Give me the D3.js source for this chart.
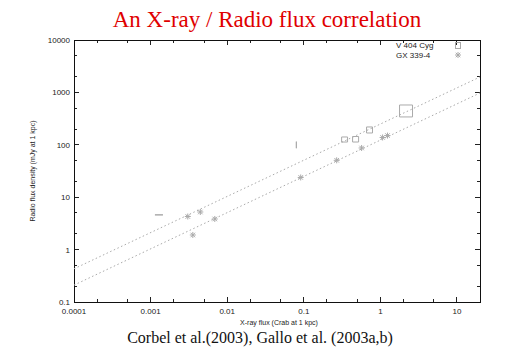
<!DOCTYPE html>
<html>
<head>
<meta charset="utf-8">
<script src="https://cdn.jsdelivr.net/npm/d3@7"></script>
<style>
  body { margin: 0; background: #fff; }
  svg { display: block; }
  .tick-label { font-family: "Liberation Sans", Arial, sans-serif; font-size: 8px; fill: #222; }
  .axis-title { font-family: "Liberation Sans", Arial, sans-serif; font-size: 7px; fill: #222; }
</style>
</head>
<body>
<div id="chart"></div>
<script>
// X-ray flux (Crab at 1 kpc) vs radio flux density (mJy at 1 kpc)

// V 404 Cyg: boxes (x range, y range)
var v404XLo = [0.00114, 0.080, 0.312, 0.434, 0.66, 1.78];
var v404XHi = [0.00145, 0.080, 0.373, 0.52, 0.79, 2.63];
var v404YLo = [4.6, 86, 113, 113, 168, 340];
var v404YHi = [4.6, 115, 141, 144, 219, 575];

// GX 339-4
var gxX = [0.00306, 0.00446, 0.00356, 0.00689, 0.0912, 0.269, 0.569, 1.07, 1.24];
var gxY = [4.28, 5.22, 1.90, 3.84, 23.8, 50.6, 86.9, 138, 150];

// the two correlation lines (end points)
var fitX = [0.0001, 20];
var fitUpper = [0.43, 1970];
var fitLower = [0.21, 975];

var xTicks = [0.0001, 0.001, 0.01, 0.1, 1, 10];
var xTickLabels = ["0.0001", "0.001", "0.01", "0.1", "1", "10"];
var yTicks = [0.1, 1, 10, 100, 1000, 10000];
var yTickLabels = ["0.1", "1", "10", "100", "1000", "10000"];
var seriesNames = ["V 404 Cyg", "GX 339-4"];

var width = 512, height = 354;
var margin = {top: 40, right: 32, bottom: 52, left: 74};

var svg = d3.select("#chart").append("svg")
    .attr("width", width)
    .attr("height", height);

var x = d3.scaleLog().domain([0.0001, 20]).range([margin.left, width - margin.right]);
var y = d3.scaleLog().domain([0.1, 10000]).range([height - margin.bottom, margin.top]);

// title
svg.append("text")
    .attr("x", 267).attr("y", 27)
    .attr("text-anchor", "middle")
    .style("font-family", "'Liberation Serif', 'Times New Roman', serif")
    .style("font-size", "23px")
    .style("fill", "#e00000")
    .text("An X-ray / Radio flux correlation");

// minor ticks at 2 and 5 of every decade
var xMinor = [], yMinor = [];
xTicks.forEach(function(t){ [2, 5].forEach(function(m){ if (t * m <= 20) xMinor.push(t * m); }); });
yTicks.slice(0, -1).forEach(function(t){ [2, 5].forEach(function(m){ yMinor.push(t * m); }); });

var x0 = margin.left, x1 = width - margin.right;
var y0 = height - margin.bottom, y1 = margin.top;

var ticks = svg.append("g").attr("stroke", "#222").attr("stroke-width", 1).attr("shape-rendering", "crispEdges");
xTicks.forEach(function(t){
    ticks.append("line").attr("x1", x(t)).attr("x2", x(t)).attr("y1", y0).attr("y2", y0 - 5);
    ticks.append("line").attr("x1", x(t)).attr("x2", x(t)).attr("y1", y1).attr("y2", y1 + 5);
});
xMinor.forEach(function(t){
    ticks.append("line").attr("x1", x(t)).attr("x2", x(t)).attr("y1", y0).attr("y2", y0 - 3);
    ticks.append("line").attr("x1", x(t)).attr("x2", x(t)).attr("y1", y1).attr("y2", y1 + 3);
});
yTicks.forEach(function(t){
    ticks.append("line").attr("x1", x0).attr("x2", x0 + 5).attr("y1", y(t)).attr("y2", y(t));
    ticks.append("line").attr("x1", x1).attr("x2", x1 - 5).attr("y1", y(t)).attr("y2", y(t));
});
yMinor.forEach(function(t){
    ticks.append("line").attr("x1", x0).attr("x2", x0 + 3).attr("y1", y(t)).attr("y2", y(t));
    ticks.append("line").attr("x1", x1).attr("x2", x1 - 3).attr("y1", y(t)).attr("y2", y(t));
});

// frame
svg.append("rect")
    .attr("x", x0 + 0.5).attr("y", y1 + 0.5)
    .attr("width", x1 - x0).attr("height", y0 - y1)
    .attr("fill", "none").attr("stroke", "#111").attr("stroke-width", 1);

// tick labels
svg.selectAll(".xlab").data(xTicks).enter().append("text")
    .attr("class", "tick-label")
    .attr("x", function(d){ return x(d); })
    .attr("y", y0 + 12)
    .attr("text-anchor", "middle")
    .text(function(d, i){ return xTickLabels[i]; });

svg.selectAll(".ylab").data(yTicks).enter().append("text")
    .attr("class", "tick-label")
    .attr("x", x0 - 4)
    .attr("y", function(d){ return y(d) + 3; })
    .attr("text-anchor", "end")
    .text(function(d, i){ return yTickLabels[i]; });

// axis titles
svg.append("text").attr("class", "axis-title")
    .attr("x", 279).attr("y", y0 + 23)
    .attr("text-anchor", "middle")
    .text("X-ray flux (Crab at 1 kpc)");

svg.append("text").attr("class", "axis-title")
    .attr("transform", "translate(35,171) rotate(-90)")
    .attr("text-anchor", "middle")
    .text("Radio flux density (mJy at 1 kpc)");

// fit lines
var line = d3.line().x(function(d){ return x(d[0]); }).y(function(d){ return y(d[1]); });
[fitUpper, fitLower].forEach(function(f){
    svg.append("path")
        .attr("d", line(fitX.map(function(v, i){ return [v, f[i]]; })))
        .attr("fill", "none")
        .attr("stroke", "#aaa")
        .attr("stroke-width", 1)
        .attr("stroke-dasharray", "1.5,2.5");
});

// V 404 Cyg boxes (paths so that flat ones still show as a bar)
svg.selectAll(".v404").data(v404XLo).enter().append("path")
    .attr("d", function(d, i){
        var l = x(d), r = x(v404XHi[i]), t = y(v404YHi[i]), b = y(v404YLo[i]);
        return "M" + l + "," + t + "H" + r + "V" + b + "H" + l + "Z";
    })
    .attr("fill", "none")
    .attr("stroke", "#aaa")
    .attr("stroke-width", 1);

// asterisk symbol
function star(g, cx, cy, r) {
    var s = g.append("g").attr("stroke", "#aaa").attr("stroke-width", 1);
    s.append("line").attr("x1", cx - r).attr("x2", cx + r).attr("y1", cy).attr("y2", cy);
    s.append("line").attr("x1", cx).attr("x2", cx).attr("y1", cy - r).attr("y2", cy + r);
    s.append("line").attr("x1", cx - r * 0.75).attr("x2", cx + r * 0.75).attr("y1", cy - r * 0.75).attr("y2", cy + r * 0.75);
    s.append("line").attr("x1", cx - r * 0.75).attr("x2", cx + r * 0.75).attr("y1", cy + r * 0.75).attr("y2", cy - r * 0.75);
}
gxX.forEach(function(v, i){ star(svg, x(v), y(gxY[i]), 3); });

// legend
var legend = svg.append("g").attr("class", "legend");
seriesNames.forEach(function(name, i){
    legend.append("text").attr("class", "axis-title")
        .style("font-size", "8px")
        .attr("x", 396).attr("y", 48 + i * 9.5)
        .text(name);
});
legend.append("rect").attr("x", 455.5).attr("y", 42.5).attr("width", 5).attr("height", 6)
    .attr("fill", "none").attr("stroke", "#aaa");
star(legend, 458, 55, 3);

// footer
svg.append("text")
    .attr("x", 260).attr("y", 343)
    .attr("text-anchor", "middle")
    .style("font-family", "'Liberation Serif', 'Times New Roman', serif")
    .style("font-size", "16px")
    .style("fill", "#111")
    .text("Corbel et al.(2003), Gallo et al. (2003a,b)");
</script>
</body>
</html>
